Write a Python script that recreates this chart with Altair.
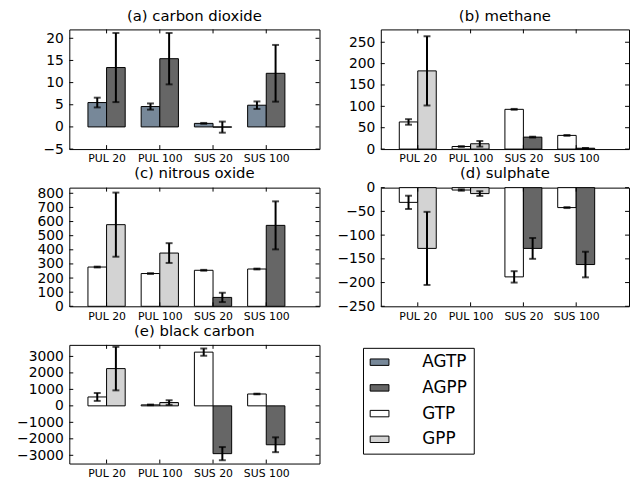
import json
import altair as alt
import pandas as pd

categories = ["PUL 20", "PUL 100", "SUS 20", "SUS 100"]
series_types = ["AGTP", "AGPP", "GTP", "GPP"]
series_colors = ["#778899", "#666666", "#ffffff", "#d3d3d3"]

# (a) carbon dioxide
co2_first = [5.5, 4.6, 0.8, 4.9]
co2_first_err = [1.1, 0.7, 0.1, 0.85]
co2_second = [13.4, 15.4, -0.05, 12.1]
co2_second_err = [7.8, 5.8, 1.25, 6.4]
co2_first_type = ["AGTP", "AGTP", "AGTP", "AGTP"]
co2_second_type = ["AGPP", "AGPP", "AGPP", "AGPP"]
co2_ticks = [-5, 0, 5, 10, 15, 20]

# (b) methane
ch4_first = [63.5, 6, 93, 32]
ch4_first_err = [6.5, 1, 1, 1]
ch4_second = [183, 12.4, 28, 2]
ch4_second_err = [81, 6.6, 1, 0.5]
ch4_ticks = [0, 50, 100, 150, 200, 250]

# (c) nitrous oxide
n2o_first = [278, 232, 255, 264]
n2o_first_err = [3, 3, 3, 3]
n2o_second = [578, 377, 63, 573]
n2o_second_err = [227, 70, 33, 170]
n2o_ticks = [0, 100, 200, 300, 400, 500, 600, 700, 800]

# (d) sulphate
so4_first = [-31, -5, -188, -42]
so4_first_err = [14, 1.5, 12, 1]
so4_second = [-128, -12.5, -128, -162]
so4_second_err = [77, 5, 22, 27]
so4_ticks = [-250, -200, -150, -100, -50, 0]

# (e) black carbon
bc_first = [540, 60, 3260, 720]
bc_first_err = [240, 20, 220, 20]
bc_second = [2260, 200, -2900, -2360]
bc_second_err = [1320, 140, 400, 450]
bc_ticks = [-3000, -2000, -1000, 0, 1000, 2000, 3000]

other_first_type = ["GTP", "GTP", "GTP", "GTP"]
other_second_type = ["GPP", "GPP", "AGPP", "AGPP"]

FONT = "DejaVu Sans"
BAR_W = 0.35
X_DOMAIN = [-0.70, 4.0]

label_expr = json.dumps(categories) + "[datum.value]"


def panel(title, first, first_err, second, second_err, ftype, stype,
          domain, ticks, width, height, legend=None, title_dy=0):
    rows = []
    for i in range(len(categories)):
        for j, (v, e, t) in enumerate([(first[i], first_err[i], ftype[i]),
                                       (second[i], second_err[i], stype[i])]):
            x0 = i - BAR_W + j * BAR_W
            rows.append(dict(cat=categories[i], x0=x0, x1=x0 + BAR_W,
                             xc=x0 + BAR_W / 2, value=v, lo=v - e, hi=v + e,
                             type=t))
    df = pd.DataFrame(rows)
    xs = alt.Scale(domain=X_DOMAIN, nice=False, zero=False)
    ys = alt.Scale(domain=domain, nice=False, zero=False)
    cs = alt.Scale(domain=series_types, range=series_colors)

    xaxis = alt.Axis(values=list(range(len(categories))), labelExpr=label_expr,
                     title=None, ticks=False, tickSize=0, domain=False,
                     grid=False, labelFont=FONT, labelFontSize=11,
                     labelColor="black", labelPadding=4)
    yaxis = alt.Axis(values=ticks, format="d", title=None, ticks=False,
                     tickSize=0, domain=False, grid=False, labelFont=FONT,
                     labelFontSize=14, labelColor="black", labelPadding=6)

    base = alt.Chart(df)
    bars = base.mark_bar(stroke="black", strokeWidth=1, opacity=1).encode(
        x=alt.X("x0:Q", scale=xs, axis=xaxis),
        x2="x1:Q",
        y=alt.Y("value:Q", scale=ys, axis=yaxis),
        y2=alt.datum(0),
        color=alt.Color("type:N", scale=cs, legend=legend),
    )
    err = base.mark_rule(color="black", strokeWidth=2).encode(
        x=alt.X("xc:Q", scale=xs, axis=xaxis),
        y=alt.Y("lo:Q", scale=ys, axis=yaxis),
        y2="hi:Q",
    )
    cap_lo = base.mark_tick(color="black", orient="horizontal", size=7,
                            thickness=2).encode(
        x=alt.X("xc:Q", scale=xs, axis=xaxis),
        y=alt.Y("lo:Q", scale=ys, axis=yaxis),
    )
    cap_hi = base.mark_tick(color="black", orient="horizontal", size=7,
                            thickness=2).encode(
        x=alt.X("xc:Q", scale=xs, axis=xaxis),
        y=alt.Y("hi:Q", scale=ys, axis=yaxis),
    )
    xt = alt.Chart(pd.DataFrame({"pos": list(range(len(categories)))}))
    xt_bot = xt.mark_rule(color="black", strokeWidth=1).encode(
        x=alt.X("pos:Q", scale=xs, axis=xaxis),
        y=alt.value(height), y2=alt.value(height - 4))
    xt_top = xt.mark_rule(color="black", strokeWidth=1).encode(
        x=alt.X("pos:Q", scale=xs, axis=xaxis),
        y=alt.value(0), y2=alt.value(4))
    yt = alt.Chart(pd.DataFrame({"t": ticks}))
    yt_left = yt.mark_rule(color="black", strokeWidth=1).encode(
        y=alt.Y("t:Q", scale=ys, axis=yaxis),
        x=alt.value(0), x2=alt.value(4))
    yt_right = yt.mark_rule(color="black", strokeWidth=1).encode(
        y=alt.Y("t:Q", scale=ys, axis=yaxis),
        x=alt.value(width - 4), x2=alt.value(width))

    return alt.layer(bars, err, cap_lo, cap_hi, xt_bot, xt_top, yt_left,
                     yt_right).properties(
        width=width, height=height,
        title=alt.TitleParams(title, font=FONT, fontSize=15,
                              fontWeight="normal", color="black",
                              anchor="middle", frame="group", offset=5,
                              dy=title_dy),
    )


legend = alt.Legend(
    orient="none", legendX=297, legendY=3, title=None,
    symbolType="M-1.115,-0.5h2.92v1h-2.92z", symbolSize=169,
    symbolStrokeColor="black", symbolStrokeWidth=1, symbolOpacity=1,
    labelFont=FONT, labelFontSize=17, labelColor="black", labelOffset=37,
    rowPadding=8.0, padding=6, strokeColor="black", fillColor="white",
    cornerRadius=0,
)

pa = panel("(a) carbon dioxide", co2_first, co2_first_err, co2_second,
           co2_second_err, co2_first_type, co2_second_type, [-5, 22],
           co2_ticks, 253, 121)
pb = panel("(b) methane", ch4_first, ch4_first_err, ch4_second,
           ch4_second_err, other_first_type, other_second_type, [0, 280],
           ch4_ticks, 251, 121)
pc = panel("(c) nitrous oxide", n2o_first, n2o_first_err, n2o_second,
           n2o_second_err, other_first_type, other_second_type, [0, 840],
           n2o_ticks, 253, 120)
pd_ = panel("(d) sulphate", so4_first, so4_first_err, so4_second,
            so4_second_err, other_first_type, other_second_type, [-250, 0],
            so4_ticks, 251, 120, title_dy=5)
pe = panel("(e) black carbon", bc_first, bc_first_err, bc_second,
           bc_second_err, other_first_type, other_second_type, [-3500, 3700],
           bc_ticks, 253, 120, legend=legend)

chart = alt.concat(pa, pb, pc, pd_, pe, columns=2,
                   spacing={"row": 39, "column": 62},
                   bounds="flush", align="each").resolve_scale(
    color="independent", x="independent", y="independent"
).configure_view(stroke="black", strokeWidth=1).properties(
    padding={"left": 8, "top": -2, "right": 0, "bottom": 0},
    background="white",
)

chart.save("out.html", embed_options={"renderer": "svg", "actions": False})
